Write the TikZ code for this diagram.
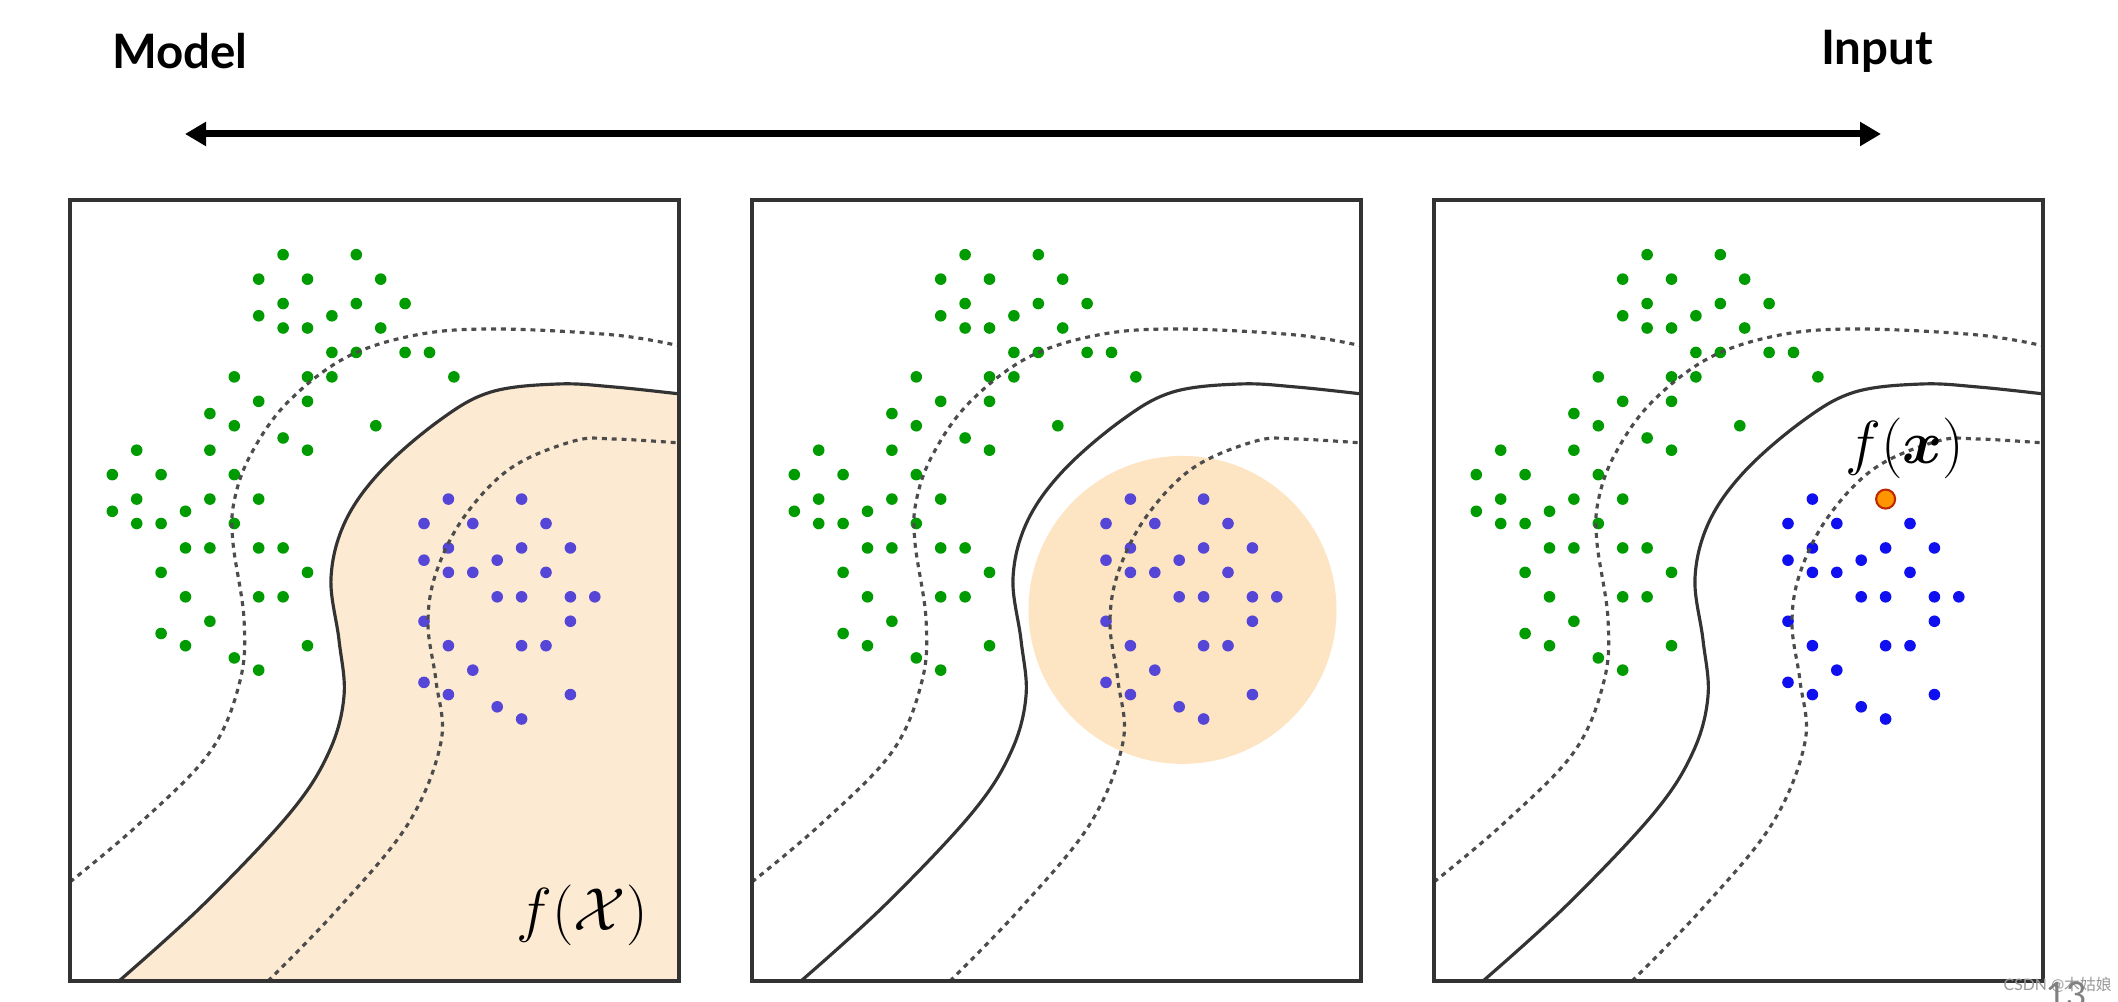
\documentclass[tikz,border=0pt]{standalone}
\usepackage{amsmath}
\usepackage{fontspec}
\setsansfont{Lato}
\newfontfamily\cjkfont{Noto Sans CJK SC}
\usetikzlibrary{arrows.meta}

\definecolor{dotgreen}{RGB}{0,155,0}
\definecolor{dotblue}{RGB}{15,15,240}
\definecolor{dotviolet}{RGB}{85,70,215}
\definecolor{peach}{RGB}{253,234,210}
\definecolor{peachdisk}{RGB}{253,228,195}
\definecolor{pointfill}{RGB}{255,150,0}
\definecolor{pointedge}{RGB}{190,40,0}

% point sets: column / half-row on each cluster's grid
\newcommand{\greenpts}{7/0,10/0,6/2,8/2,11/2,7/4,10/4,12/4,6/5,9/5,7/6,8/6,11/6,
  9/8,10/8,12/8,13/8,5/10,8/10,9/10,14/10,6/12,8/12,4/13,5/14,10.8/14,7/15,8/16,
  1/16,4/16,0/18,2/18,5/18,1/20,4/20,6/20,0/21,3/21,1/22,2/22,5/22,3/24,4/24,6/24,
  7/24,2/26,8/26,3/28,6/28,7/28,4/30,2/31,3/32,8/32,5/33,6/34}
\newcommand{\bluepts}{1/20,0/22,2/22,5/22,1/24,4/24,6/24,0/25,3/25,1/26,2/26,5/26,
  3/28,4/28,6/28,7/28,0/30,6/30,1/32,4/32,5/32,2/34,0/35,1/36,6/36,3/37,4/38}

% dots and the three boundaries shared by all panels; #1 = colour of class 2
\newcommand{\panelbase}[1]{%
  \foreach \i/\j in \greenpts
    \fill[dotgreen] ({0.423+0.244*\i},{7.263-0.1222*\j}) circle (0.058);
  \foreach \k/\j in \bluepts
    \fill[#1] ({3.540+0.244*\k},{7.263-0.1222*\j}) circle (0.058);
  \draw[margin] plot[smooth,tension=0.6] coordinates {(0,0.99) (0.69,1.57)
    (1.40,2.29) (1.70,3.00) (1.74,3.62) (1.63,4.38) (1.64,4.79) (1.80,5.25)
    (2.16,5.77) (2.75,6.23) (3.46,6.46) (4.25,6.52) (5.44,6.46) (6.10,6.35)};
  \draw[margin] plot[smooth,tension=0.6] coordinates {(1.98,0) (2.67,0.71)
    (3.38,1.57) (3.71,2.39) (3.66,3.00) (3.58,3.57) (3.66,4.08) (3.94,4.64)
    (4.41,5.13) (5.04,5.40) (5.44,5.42) (6.10,5.38)};
  \draw[boundary] plot[smooth,tension=0.6] coordinates {(0.49,0) (1.33,0.76)
    (2.20,1.68) (2.59,2.29) (2.74,2.85) (2.69,3.41) (2.61,4.03) (2.75,4.59)
    (3.11,5.10) (3.70,5.61) (4.21,5.89) (4.88,5.97) (5.44,5.94) (6.10,5.87)};
}

\tikzset{
  frame/.style={line width=0.9pt,black!80},
  boundary/.style={line width=0.9pt,black!80},
  margin/.style={line width=0.9pt,black!70,dash pattern=on 1.4pt off 1.4pt},
  heading/.style={font=\sffamily\bfseries\fontsize{13.5}{16}\selectfont},
  maplabel/.style={font=\fontsize{17}{20}\selectfont}
}

\begin{document}
\begin{tikzpicture}
\useasboundingbox (0,0) rectangle (21.18,10.02);

% axis from model-side to input-side explanations
\node[heading] (model) at (1.80,9.51) {Model};
\node[heading] (input) at (18.77,9.51) {Input};
\coordinate (arrL) at (1.85,8.68);
\coordinate (arrR) at (18.81,8.68);
\draw[line width=2pt,{Triangle[length=0.21cm,width=0.23cm]}-{Triangle[length=0.21cm,width=0.23cm]}]
  (arrL) -- (arrR);

% panel 1: image of the whole input space
\begin{scope}[shift={(0.70,0.21)}]
  \begin{scope}
    \clip (0,0) rectangle (6.09,7.81);
    \fill[peach] plot[smooth,tension=0.6] coordinates {(0.49,0) (1.33,0.76)
      (2.20,1.68) (2.59,2.29) (2.74,2.85) (2.69,3.41) (2.61,4.03) (2.75,4.59)
      (3.11,5.10) (3.70,5.61) (4.21,5.89) (4.88,5.97) (5.44,5.94) (6.10,5.87)}
      -- (6.10,0) -- cycle;
    \panelbase{dotviolet}
    \fill[dotviolet] (4.516,4.819) circle (0.058);
  \end{scope}
  \draw[frame] (0,0) rectangle (6.09,7.81);
  \node[maplabel] (fX) at (5.12,0.66) {$f(\mathcal{X})$};
\end{scope}

% panel 2: a local neighbourhood
\begin{scope}[shift={(7.52,0.21)}]
  \begin{scope}
    \clip (0,0) rectangle (6.09,7.81);
    \fill[peachdisk] (4.305,3.711) circle (1.54);
    \panelbase{dotviolet}
    \fill[dotviolet] (4.516,4.819) circle (0.058);
  \end{scope}
  \draw[frame] (0,0) rectangle (6.09,7.81);
\end{scope}

% panel 3: one single input
\begin{scope}[shift={(14.34,0.21)}]
  \begin{scope}
    \clip (0,0) rectangle (6.09,7.81);
    \panelbase{dotblue}
  \end{scope}
  \draw[frame] (0,0) rectangle (6.09,7.81);
  \fill[pointfill,draw=pointedge,line width=0.6pt] (4.516,4.819) circle (0.095);
  \node[maplabel] (fx) at (4.71,5.33) {$f(\boldsymbol{x})$};
\end{scope}

\node[anchor=west,text=black!40,font=\sffamily\fontsize{4.5}{5}\selectfont,inner sep=0pt]
  (wm) at (20.03,0.17) {CSDN @{\cjkfont 木姑娘}};
\node[anchor=north,text=black!50,font=\sffamily\fontsize{10}{11}\selectfont,inner sep=0pt]
  (pageno) at (20.66,0.21) {13};
\end{tikzpicture}
\end{document}
